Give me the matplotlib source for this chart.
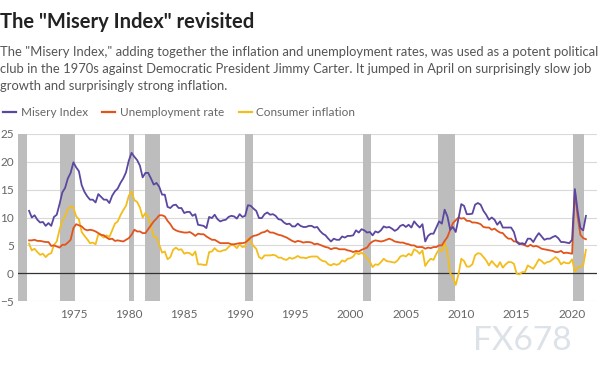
import matplotlib
matplotlib.use("Agg")
import matplotlib.pyplot as plt
import matplotlib.dates as mdates
import pandas as pd

plt.rcParams['font.family'] = ['Lato', 'DejaVu Sans']

# quarterly samples (Jan, Apr, Jul, Oct), Jan 1971 - Apr 2021
dates = pd.date_range('1971-01-01', '2021-04-01', freq='QS')

unemployment = [
    5.9, 5.9, 6.0, 5.8,  5.8, 5.7, 5.6, 5.6,  4.9, 5.0, 4.8, 4.6,  5.1, 5.1, 5.5, 6.0,
    8.1, 8.8, 8.6, 8.4,  7.9, 7.7, 7.8, 7.7,  7.5, 7.2, 6.9, 6.8,  6.4, 6.1, 6.2, 5.8,
    5.9, 5.8, 5.7, 6.0,  6.3, 6.9, 7.8, 7.5,  7.5, 7.2, 7.2, 7.9,  8.6, 9.3, 9.8, 10.4,
    10.4, 10.2, 9.4, 8.8,  8.0, 7.7, 7.5, 7.4,  7.3, 7.3, 7.4, 7.1,  6.7, 7.1, 7.0, 7.0,
    6.6, 6.3, 6.0, 6.0,  5.7, 5.4, 5.4, 5.4,  5.4, 5.2, 5.2, 5.3,  5.4, 5.4, 5.5, 5.9,
    6.4, 6.7, 6.8, 7.0,  7.3, 7.4, 7.7, 7.3,  7.3, 7.1, 6.9, 6.8,  6.6, 6.4, 6.1, 5.8,
    5.6, 5.8, 5.7, 5.5,  5.6, 5.6, 5.5, 5.2,  5.3, 5.1, 4.9, 4.7,  4.6, 4.3, 4.5, 4.5,
    4.3, 4.3, 4.3, 4.1,  4.0, 3.8, 4.0, 3.9,  4.2, 4.4, 4.6, 5.3,  5.7, 5.9, 5.8, 5.7,
    5.8, 6.0, 6.2, 6.0,  5.7, 5.6, 5.5, 5.5,  5.3, 5.2, 5.0, 5.0,  4.7, 4.7, 4.7, 4.4,
    4.6, 4.5, 4.7, 4.7,  5.0, 5.0, 5.8, 6.5,  7.8, 9.0, 9.5, 10.0,  9.8, 9.9, 9.4, 9.4,
    9.1, 9.1, 9.0, 8.8,  8.3, 8.2, 8.2, 7.8,  8.0, 7.6, 7.3, 7.2,  6.6, 6.2, 6.2, 5.7,
    5.7, 5.4, 5.2, 5.0,  4.8, 5.1, 4.8, 4.9,  4.7, 4.4, 4.3, 4.2,  4.1, 4.0, 3.8, 3.8,
    4.0, 3.6, 3.7, 3.6,  3.5, 14.8, 10.2, 6.9,  6.3, 6.1,
]

inflation = [
    5.3, 4.1, 4.4, 3.8,  3.3, 3.5, 2.9, 3.4,  3.6, 5.1, 5.7, 7.8,  9.4, 10.2, 11.5, 12.0,
    11.8, 10.2, 9.7, 7.4,  6.7, 6.1, 5.4, 5.5,  5.2, 7.0, 6.8, 6.4,  6.8, 6.5, 7.7, 8.9,
    9.3, 10.4, 11.3, 12.1,  13.9, 14.7, 13.1, 12.8,  11.8, 10.0, 10.8, 10.1,  8.4, 6.6, 6.4, 5.1,
    3.7, 3.9, 2.5, 2.9,  4.2, 4.6, 4.2, 4.3,  3.5, 3.7, 3.6, 3.2,  3.9, 1.6, 1.6, 1.5,
    1.5, 3.8, 3.9, 4.5,  4.0, 3.9, 4.1, 4.2,  4.7, 5.1, 5.0, 4.5,  5.2, 4.7, 4.8, 6.3,
    5.7, 4.9, 4.4, 2.9,  2.6, 3.2, 3.2, 3.2,  3.3, 3.2, 2.8, 2.8,  2.5, 2.4, 2.8, 2.6,
    2.8, 3.1, 2.8, 2.8,  2.7, 2.9, 3.0, 3.0,  3.0, 2.5, 2.2, 2.1,  1.6, 1.4, 1.7, 1.5,
    1.7, 2.3, 2.1, 2.6,  2.7, 3.0, 3.7, 3.4,  3.7, 3.3, 2.7, 2.1,  1.1, 1.6, 1.5, 2.0,
    2.6, 2.2, 2.1, 2.0,  1.9, 2.3, 3.0, 3.2,  3.0, 3.5, 3.2, 4.3,  4.0, 3.5, 4.1, 1.3,
    2.1, 2.6, 2.4, 3.5,  4.3, 3.9, 5.6, 3.7,  0.0, -0.7, -2.1, -0.2,  2.6, 2.2, 1.2, 1.2,
    1.6, 3.2, 3.6, 3.5,  2.9, 2.3, 1.4, 2.2,  1.6, 1.1, 2.0, 1.0,  1.6, 2.0, 2.0, 1.7,
    -0.1, -0.2, 0.2, 0.2,  1.4, 1.1, 0.8, 1.6,  2.5, 2.2, 1.7, 2.0,  2.1, 2.5, 2.9, 2.5,
    1.6, 2.0, 1.8, 1.8,  2.5, 0.3, 1.0, 1.2,  1.4, 4.2,
]

misery = [
    11.2, 10.0, 10.4, 9.6,  9.1, 9.2, 8.5, 9.0,  8.5, 10.1, 10.5, 12.4,  14.5, 15.3, 17.0, 18.0,
    19.9, 19.0, 18.3, 15.8,  14.6, 13.8, 13.2, 13.2,  12.7, 14.2, 13.7, 13.2,  13.2, 12.6, 13.9, 14.7,
    15.2, 16.2, 17.0, 18.1,  20.2, 21.6, 20.9, 20.3,  19.3, 17.2, 18.0, 18.0,  17.0, 15.9, 16.2, 15.5,
    14.1, 14.1, 11.9, 11.7,  12.2, 12.3, 11.7, 11.7,  10.8, 11.0, 11.0, 10.3,  10.6, 8.7, 8.6, 8.5,
    8.1, 10.1, 9.9, 10.5,  9.7, 9.3, 9.5, 9.6,  10.1, 10.3, 10.2, 9.8,  10.6, 10.1, 10.3, 12.2,
    12.1, 11.6, 11.2, 9.9,  9.9, 10.6, 10.9, 10.5,  10.6, 10.3, 9.7, 9.6,  9.1, 8.8, 8.9, 8.4,
    8.4, 8.9, 8.5, 8.3,  8.3, 8.5, 8.5, 8.2,  8.3, 7.6, 7.1, 6.8,  6.2, 5.7, 6.2, 6.0,
    6.0, 6.6, 6.4, 6.7,  6.7, 6.8, 7.7, 7.3,  7.9, 7.7, 7.3, 7.4,  6.8, 7.5, 7.3, 7.7,
    8.4, 8.2, 8.3, 8.0,  7.6, 7.9, 8.5, 8.7,  8.3, 8.7, 8.2, 9.3,  8.7, 8.2, 8.8, 5.7,
    6.7, 7.1, 7.1, 8.2,  9.3, 8.9, 11.4, 10.2,  7.8, 8.3, 7.4, 9.8,  12.4, 12.1, 10.6, 10.6,
    10.7, 12.3, 12.6, 12.3,  11.2, 10.5, 9.6, 10.0,  9.6, 8.7, 9.3, 8.2,  8.2, 8.2, 8.2, 7.4,
    5.6, 5.2, 5.4, 5.2,  6.2, 6.2, 5.6, 6.5,  7.2, 6.6, 6.0, 6.2,  6.2, 6.5, 6.7, 6.3,
    5.6, 5.6, 5.5, 5.4,  6.0, 15.1, 11.2, 8.1,  7.7, 10.3,
]

recession_start = ['1969-12-01', '1973-11-01', '1980-01-01', '1981-07-01', '1990-07-01',
                   '2001-03-01', '2007-12-01', '2020-02-01']
recession_end = ['1970-11-01', '1975-03-01', '1980-07-01', '1982-11-01', '1991-03-01',
                 '2001-11-01', '2009-06-01', '2021-02-01']

year_ticks = list(range(1975, 2021, 5))
y_ticks = [-5, 0, 5, 10, 15, 20, 25]

purple = '#5b47a0'
orange = '#e2541c'
yellow = '#f3bd1c'
grey_txt = '#666666'

fig = plt.figure(figsize=(6, 3.75), dpi=100)
ax = fig.add_axes([0.03, 0.197, 0.965, 0.446])

# recession shading
for s, e in zip(recession_start, recession_end):
    ax.axvspan(pd.Timestamp(s), pd.Timestamp(e), color='#bdbdbd', lw=0, zorder=1)

for y in y_ticks:
    if y == 0:
        ax.axhline(y, color='#333333', lw=0.9, zorder=2)
    else:
        ax.axhline(y, color='#d9d9d9', lw=0.8, zorder=0)

ax.plot(dates, inflation, color=yellow, lw=1.3, zorder=3, label='Consumer inflation')
ax.plot(dates, unemployment, color=orange, lw=1.3, zorder=4, label='Unemployment rate')
ax.plot(dates, misery, color=purple, lw=1.3, zorder=5, label='Misery Index')

ax.set_xlim(pd.Timestamp('1970-01-01'), pd.Timestamp('2022-04-01'))
ax.set_ylim(-5, 25)
ax.set_xticks([pd.Timestamp(f'{y}-01-01') for y in year_ticks])
ax.xaxis.set_major_formatter(mdates.DateFormatter('%Y'))
ax.set_yticks(y_ticks)
ax.tick_params(length=0, labelsize=8.5, colors=grey_txt, pad=6)
ax.tick_params(axis='y', pad=3)
for sp in ax.spines.values():
    sp.set_visible(False)

fig.text(0.0, 0.924, 'The "Misery Index" revisited', fontsize=14.5, fontweight='bold',
         color='#222222', ha='left', va='baseline')
fig.text(0.0, 0.878,
         'The "Misery Index," adding together the inflation and unemployment rates, was used as a potent political\n'
         'club in the 1970s against Democratic President Jimmy Carter. It jumped in April on surprisingly slow job\n'
         'growth and surprisingly strong inflation.',
         fontsize=9.4, color='#555555', ha='left', va='top', linespacing=1.5)

h = [plt.Line2D([], [], color=c, lw=1.6) for c in (purple, orange, yellow)]
fig.legend(h, ['Misery Index', 'Unemployment rate', 'Consumer inflation'],
           loc='upper left', bbox_to_anchor=(-0.012, 0.742), ncol=3, frameon=False,
           fontsize=8.5, handlelength=1.1, handletextpad=0.4, columnspacing=1.2,
           labelcolor=grey_txt)

fig.text(0.953, 0.05, 'FX678', fontsize=24, color='#dde2e8', ha='right', va='bottom')

fig.savefig('out.png', dpi=100)
